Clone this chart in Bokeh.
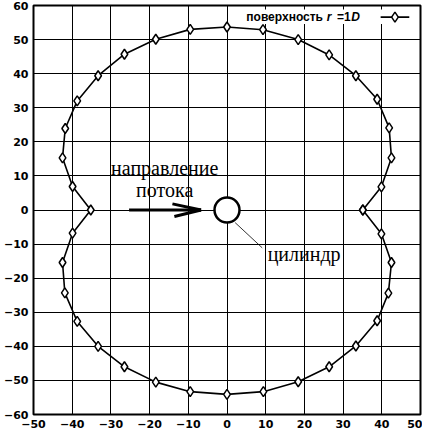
from bokeh.plotting import figure
from bokeh.models import Range1d, FixedTicker, Arrow
from bokeh.core.properties import value
from bokeh.embed import file_html
from bokeh.resources import INLINE

# surface r = 1D contour (closed, every 10 degrees)
xs = [35.1, 39.9, 42.5, 41.9, 38.8, 33.3, 26.4, 18.4, 9.3, 0.0,
      -9.5, -18.4, -26.5, -33.3, -38.7, -41.8, -42.5, -39.9, -35.2,
      -39.9, -42.5, -41.9, -38.7, -33.3, -26.5, -18.4, -9.5, 0.0,
      9.4, 18.4, 26.4, 33.3, 38.8, 41.7, 42.5, 39.9, 35.1]
ys = [0.0, 6.8, 15.3, 24.1, 32.5, 39.4, 45.5, 50.0, 52.9, 53.7,
      53.0, 50.1, 45.7, 39.4, 32.0, 23.9, 15.3, 6.9, 0.0,
      -6.8, -15.4, -24.3, -32.7, -40.0, -46.0, -50.5, -53.3, -54.1,
      -53.3, -50.4, -46.0, -39.9, -32.5, -24.4, -15.4, -7.0, 0.0]
x_ticks = [-50, -40, -30, -20, -10, 0, 10, 20, 30, 40, 50]
y_ticks = [-60, -50, -40, -30, -20, -10, 0, 10, 20, 30, 40, 50, 60]

p = figure(width=422, height=430, x_range=Range1d(-50, 50), y_range=Range1d(-60, 60),
           output_backend="svg", toolbar_location=None,
           min_border_left=0, min_border_right=2, min_border_top=5, min_border_bottom=0)
p.background_fill_color = "white"
p.border_fill_color = "white"
p.outline_line_color = "black"
p.outline_line_width = 2
p.outline_line_alpha = 1

for ax, t in ((p.xaxis, x_ticks), (p.yaxis, y_ticks)):
    ax.ticker = FixedTicker(ticks=t)
    ax.axis_line_color = None
    ax.major_tick_in = 0
    ax.major_tick_out = 0
    ax.minor_tick_line_color = None
    ax.major_label_text_font = "DejaVu Sans"
    ax.major_label_text_font_style = "bold"
    ax.major_label_text_font_size = "11px"
    ax.major_label_text_color = "black"
p.xaxis.major_label_standoff = 5
p.yaxis.major_label_standoff = 5

p.grid.grid_line_color = "black"
p.grid.grid_line_width = 1
p.grid.grid_line_alpha = 1

# legend background
p.quad(left=[4.0], right=[49.5], bottom=[54.6], top=[58.8], fill_color="white", line_color=None)

# contour
p.line(xs, ys, line_color="black", line_width=1.6)
p.scatter(xs, ys, marker="diamond", size=10, fill_color="white", line_color="black", line_width=1.5)

# cylinder
p.scatter([0], [0], marker="circle", size=25, fill_color="white", line_color="black", line_width=2.5)
p.line([2.1, 9.1], [-3.7, -11.1], line_color="black", line_width=0.8)

# flow arrow (shaft + two narrow barbs)
for x0, y0 in ((-25.3, 0.0), (-14.1, 1.8), (-13.6, -1.9)):
    p.add_layout(Arrow(end=None, x_start=x0, y_start=y0, x_end=-6.7, y_end=0.0,
                       line_width=3, line_color="black"))

serif = value("Liberation Serif")
p.text(x=[-16.1], y=[12.4], text=["направление"], text_font=serif, text_font_size="20px",
       text_align="center", text_baseline="middle", text_color="black")
p.text(x=[-16.1], y=[5.8], text=["потока"], text_font=serif, text_font_size="20px",
       text_align="center", text_baseline="middle", text_color="black")
p.text(x=[10.5], y=[-12.9], text=["цилиндр"], text_font=serif, text_font_size="20px",
       text_align="left", text_baseline="middle", text_color="black")

# legend
sans = value("Liberation Sans")
ly = 56.6
p.text(x=[24.8], y=[ly], text=["поверхность"], text_font=sans, text_font_style="bold",
       text_font_size="12px", text_align="right", text_baseline="middle", text_color="black")
p.text(x=[25.8], y=[ly], text=["r"], text_font=sans, text_font_style="bold italic",
       text_font_size="12px", text_baseline="middle", text_color="black")
p.text(x=[28.4], y=[ly], text=["=1"], text_font=sans, text_font_style="bold",
       text_font_size="12px", text_baseline="middle", text_color="black")
p.text(x=[32.1], y=[ly], text=["D"], text_font=sans, text_font_style="bold italic",
       text_font_size="12px", text_baseline="middle", text_color="black")
p.line([39.7, 47.1], [ly, ly], line_color="black", line_width=1.6)
p.scatter([43.4], [ly], marker="diamond", size=10, fill_color="white", line_color="black", line_width=1.5)

open("out.html", "w").write(file_html(p, INLINE))
